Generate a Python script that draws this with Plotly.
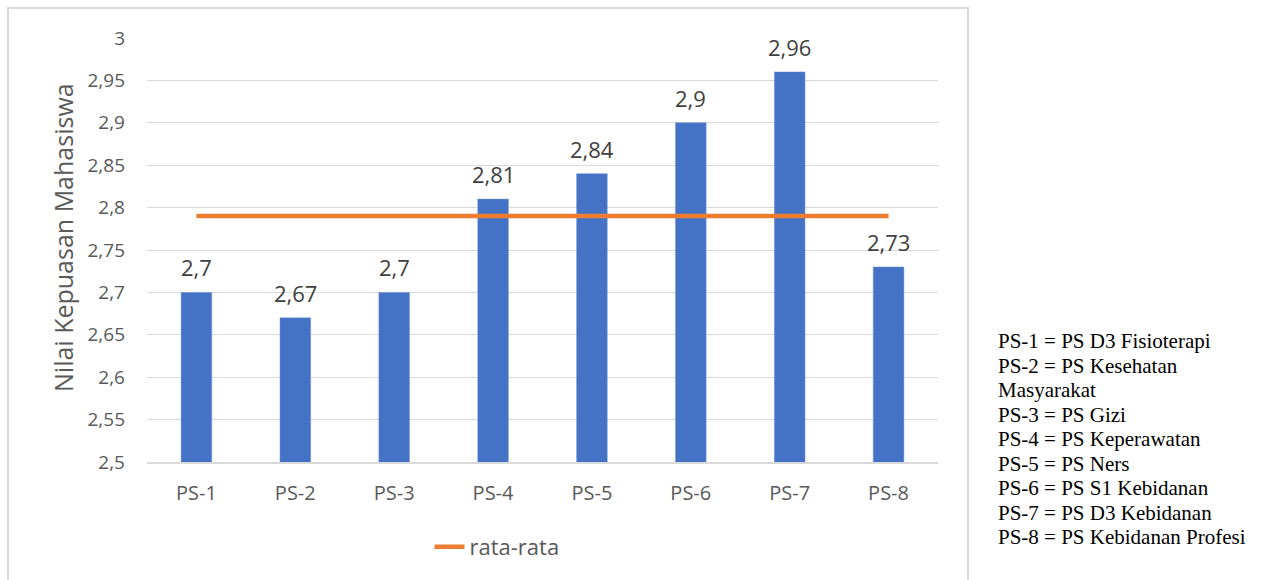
import plotly.graph_objects as go

categories = ["PS-1", "PS-2", "PS-3", "PS-4", "PS-5", "PS-6", "PS-7", "PS-8"]
values = [2.70, 2.67, 2.70, 2.81, 2.84, 2.90, 2.96, 2.73]
average = [2.79] * len(categories)
avg_name = "rata-rata"
y_title = "Nilai Kepuasan Mahasiswa"
y_ticks = [2.5, 2.55, 2.6, 2.65, 2.7, 2.75, 2.8, 2.85, 2.9, 2.95, 3.0]
descriptions = [
    "PS-1 = PS D3 Fisioterapi",
    "PS-2 = PS Kesehatan",
    "Masyarakat",
    "PS-3 = PS Gizi",
    "PS-4 = PS Keperawatan",
    "PS-5 = PS Ners",
    "PS-6 = PS S1 Kebidanan",
    "PS-7 = PS D3 Kebidanan",
    "PS-8 = PS Kebidanan Profesi",
]

def fmt(v):
    s = ("%.2f" % v).rstrip("0").rstrip(".")
    return s.replace(".", ",")

W, H = 1263, 580
L, R, T, B = 147, 938, 38, 462
pw, ph = R - L, B - T

def px(x):
    return (x - L) / pw

def py(y):
    return (B - y) / ph

FONT = "Open Sans"
GREY = "#595959"

fig = go.Figure()
fig.add_trace(go.Bar(
    x=categories, y=values, marker_color="#4472C4",
    marker_line=dict(color="#6f93d6", width=0.5),
    width=0.31, showlegend=False, hoverinfo="skip",
))
fig.add_trace(go.Scatter(
    x=categories, y=average, mode="lines", name=avg_name,
    line=dict(color="#ED7D31", width=4.5),
))

annotations = []
for c, v in zip(categories, values):
    annotations.append(dict(
        x=c, y=v, xref="x", yref="y", text=fmt(v), showarrow=False,
        yanchor="middle", yshift=25,
        font=dict(family=FONT, size=22, color="#404040"),
    ))
annotations.append(dict(
    x=px(63), y=py(238), xref="paper", yref="paper", text=y_title,
    showarrow=False, textangle=-90, xanchor="center", yanchor="middle",
    font=dict(family=FONT, size=25, color=GREY),
))
for i, line in enumerate(descriptions):
    annotations.append(dict(
        x=px(996), y=py(341 + 24.5 * i), xref="paper", yref="paper",
        text=line, showarrow=False, align="left",
        xanchor="left", yanchor="middle",
        font=dict(family="Liberation Serif", size=21, color="#000000"),
    ))

fig.update_layout(
    width=W, height=H,
    margin=dict(l=L, r=W - R, t=T, b=H - B),
    paper_bgcolor="white", plot_bgcolor="white",
    font=dict(family=FONT, color=GREY),
    annotations=annotations,
    showlegend=True,
    legend=dict(
        orientation="h", x=px(497), y=py(547), xanchor="center", yanchor="middle",
        font=dict(family=FONT, size=22, color=GREY), bgcolor="rgba(0,0,0,0)",
    ),
    shapes=[dict(
        type="rect", xref="paper", yref="paper",
        x0=px(8), x1=px(968), y0=py(600), y1=py(8),
        line=dict(color="#d9d9d9", width=2), fillcolor="rgba(0,0,0,0)",
        layer="below",
    )],
)
fig.update_yaxes(
    range=[2.5, 3.0], tickvals=y_ticks, ticktext=[fmt(v) for v in y_ticks],
    showgrid=True, gridcolor="#d9d9d9", gridwidth=1.3, zeroline=False,
    tickfont=dict(family=FONT, size=19, color=GREY), ticklabelstandoff=21,
    showline=False,
)
fig.update_xaxes(
    showgrid=False, showline=True, linecolor="#d9d9d9", linewidth=1.5,
    tickfont=dict(family=FONT, size=20, color=GREY), ticklabelstandoff=12,
)

fig.write_html("out.html")
